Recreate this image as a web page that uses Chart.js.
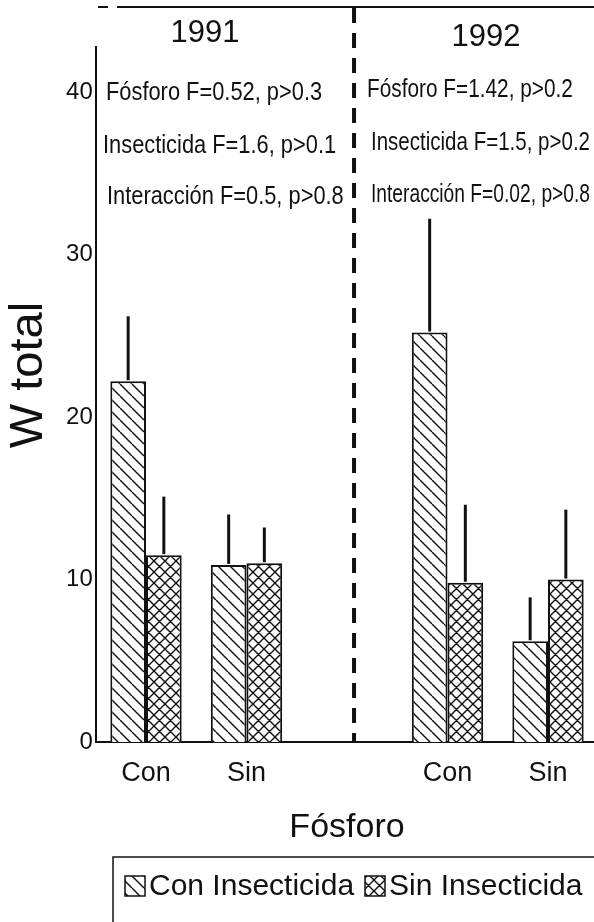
<!DOCTYPE html>
<html>
<head>
<meta charset="utf-8">
<script src="https://cdn.jsdelivr.net/npm/chart.js@4.4.1/dist/chart.umd.min.js"></script>
<style>
  html, body { margin: 0; padding: 0; background: #fff; overflow: hidden; }
  #wrap { width: 594px; height: 922px; overflow: hidden; position: relative; }
  canvas { display: block; }
</style>
</head>
<body>
<div id="wrap"><canvas id="chart" width="600" height="922"></canvas></div>
<script>
// Phosphorus level on the x axis; the empty slot separates the two years
const categories = ['Con', 'Sin', '', 'Con', 'Sin'];
const years = ['1991', '1992'];
const seriesNames = ['Con Insecticida', 'Sin Insecticida'];

// Mean total W per treatment
const conInsecticida = [22.2, 10.9, null, 25.2, 6.2];
const sinInsecticida = [11.5, 11.0, null, 9.8, 10.0];

// Length of the upper error bar above each mean
const conInsecticidaErr = [4.0, 3.1, null, 7.0, 2.7];
const sinInsecticidaErr = [3.6, 2.2, null, 4.8, 4.3];

const yTicks = [0, 10, 20, 30, 40];
const yMax = 42.8;

// ANOVA results for each year
const stats1991 = ['Fósforo F=0.52, p>0.3', 'Insecticida F=1.6, p>0.1', 'Interacción F=0.5, p>0.8'];
const stats1992 = ['Fósforo F=1.42, p>0.2', 'Insecticida F=1.5, p>0.2', 'Interacción F=0.02, p>0.8'];

// Category position of the dashed line between years
const dividerAt = 2.07;

const FONT = '"Liberation Sans", Arial, Helvetica, sans-serif';
const INK = '#111';

const canvas = document.getElementById('chart');
const ctx = canvas.getContext('2d');

function hatch(cross) {
  const s = cross ? 11 : 12;
  const c = document.createElement('canvas');
  c.width = s; c.height = s;
  const g = c.getContext('2d');
  g.fillStyle = '#fff';
  g.fillRect(0, 0, s, s);
  g.strokeStyle = INK;
  g.lineWidth = 1.4;
  g.beginPath();
  for (const o of [-s, 0, s]) { g.moveTo(o, 0); g.lineTo(o + s, s); }
  if (cross) for (const o of [-s, 0, s]) { g.moveTo(o + s, 0); g.lineTo(o, s); }
  g.stroke();
  return ctx.createPattern(c, 'repeat');
}
const patterns = [hatch(false), hatch(true)];
const errors = [conInsecticidaErr, sinInsecticidaErr];

const decorations = {
  id: 'decorations',
  afterDatasetsDraw(chart) {
    const { ctx, chartArea, scales: { x, y } } = chart;
    ctx.save();
    // error bars
    ctx.strokeStyle = INK;
    ctx.lineWidth = 3;
    chart.data.datasets.forEach((ds, i) => {
      const meta = chart.getDatasetMeta(i);
      meta.data.forEach((bar, j) => {
        const v = ds.data[j];
        if (v == null) return;
        const top = y.getPixelForValue(v + errors[i][j]);
        ctx.beginPath();
        ctx.moveTo(bar.x, bar.y - 1);
        ctx.lineTo(bar.x, top);
        ctx.stroke();
      });
    });

    // dashed separator between years
    const p2 = x.getPixelForValue(2), p3 = x.getPixelForValue(3);
    const dx = p2 + (dividerAt - 2) * (p3 - p2);
    ctx.lineWidth = 4;
    ctx.setLineDash([15, 10]);
    ctx.beginPath();
    ctx.moveTo(dx, 8);
    ctx.lineTo(dx, chartArea.bottom);
    ctx.stroke();

    // top frame line
    ctx.lineWidth = 2;
    ctx.setLineDash([10, 9, 1000]);
    ctx.beginPath();
    ctx.moveTo(98, 7);
    ctx.lineTo(chart.width, 7);
    ctx.stroke();
    ctx.setLineDash([]);

    // year headings
    ctx.fillStyle = INK;
    ctx.textAlign = 'center';
    ctx.textBaseline = 'middle';
    ctx.font = '31px ' + FONT;
    ctx.fillText(years[0], 205, 33);
    ctx.fillText(years[1], 486, 37);

    // ANOVA text, condensed
    const drawStats = (lines, xs, ys, sx, maxW) => {
      lines.forEach((t, k) => {
        ctx.save();
        ctx.translate(xs[k], ys[k]);
        ctx.scale(sx, 1);
        ctx.textAlign = 'left';
        ctx.font = '26px ' + FONT;
        ctx.fillText(t, 0, 0, maxW / sx);
        ctx.restore();
      });
    };
    drawStats(stats1991, [106, 103, 107], [93, 146, 197], 0.84, 240);
    drawStats(stats1992, [367, 371, 371], [90, 143, 195], 0.8, 219);

    // y axis title
    ctx.save();
    ctx.translate(29, 375);
    ctx.rotate(-Math.PI / 2);
    ctx.textAlign = 'center';
    ctx.font = '47px ' + FONT;
    ctx.fillText('W total', 0, 0);
    ctx.restore();

    // legend
    ctx.lineWidth = 1.5;
    ctx.strokeRect(113, 857, 520, 90);
    const sw = [[125, 876], [365, 876]];
    const tx = [149, 389];
    seriesNames.forEach((name, i) => {
      ctx.fillStyle = patterns[i];
      ctx.fillRect(sw[i][0], sw[i][1], 20, 20);
      ctx.strokeRect(sw[i][0], sw[i][1], 20, 20);
      ctx.fillStyle = INK;
      ctx.textAlign = 'left';
      ctx.font = '30px ' + FONT;
      ctx.fillText(name, tx[i], 887);
    });
    ctx.restore();
  }
};

new Chart(ctx, {
  type: 'bar',
  data: {
    labels: categories,
    datasets: [
      { label: seriesNames[0], data: conInsecticida, backgroundColor: patterns[0], borderColor: INK, borderWidth: 2 },
      { label: seriesNames[1], data: sinInsecticida, backgroundColor: patterns[1], borderColor: INK, borderWidth: 2 }
    ]
  },
  options: {
    responsive: false,
    animation: false,
    categoryPercentage: 0.71,
    barPercentage: 1.0,
    layout: { padding: { left: 0, right: 1.75, top: 46.5, bottom: 72 } },
    plugins: { legend: { display: false }, tooltip: { enabled: false } },
    scales: {
      x: {
        grid: { display: false, drawTicks: false },
        border: { display: true, color: INK, width: 2 },
        ticks: { color: INK, font: { family: FONT, size: 27 }, padding: 15 },
        title: { display: true, text: 'Fósforo', color: INK, font: { family: FONT, size: 34 }, padding: { top: 0, bottom: 2 } },
        afterFit(s) { s.height = 108; }
      },
      y: {
        min: 0,
        max: yMax,
        grid: { display: false, drawTicks: false },
        border: { display: true, color: INK, width: 2 },
        ticks: { color: INK, font: { family: FONT, size: 24 }, padding: 3 },
        afterBuildTicks(s) { s.ticks = yTicks.map(v => ({ value: v })); },
        afterFit(s) { s.width = 95.75; }
      }
    }
  },
  plugins: [decorations]
});
</script>
</body>
</html>
